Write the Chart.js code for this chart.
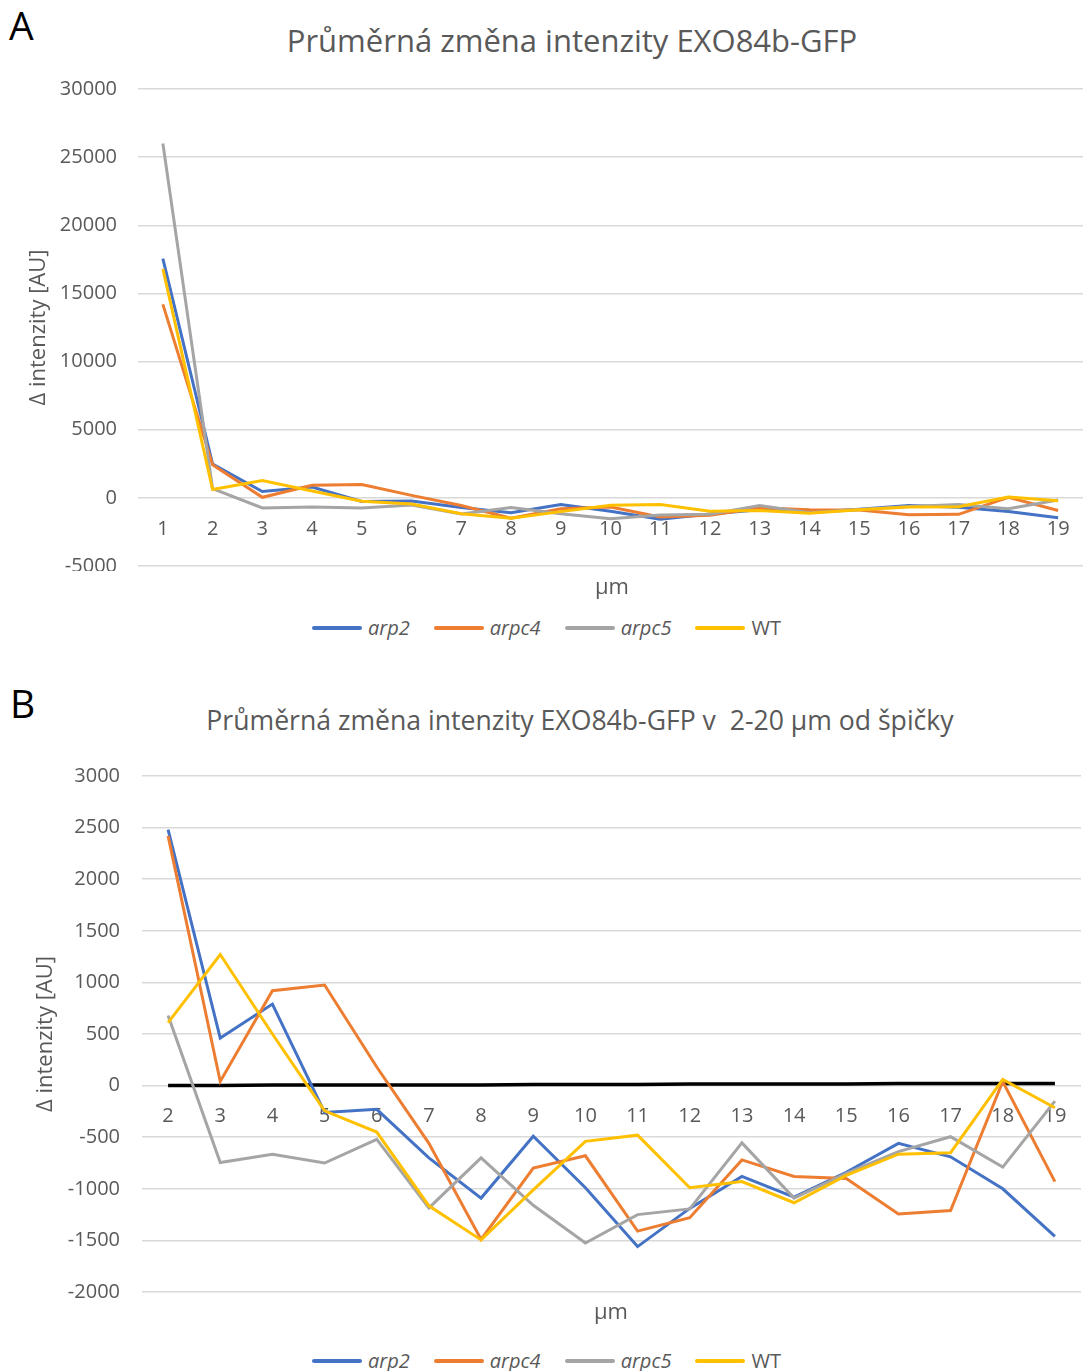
<!DOCTYPE html>
<html>
<head>
<meta charset="utf-8">
<title>EXO84b-GFP</title>
<script src="https://cdn.jsdelivr.net/npm/chart.js@4.4.1/dist/chart.umd.min.js"></script>
<style>
  html, body { margin: 0; padding: 0; background: #fff; }
  body { position: relative; width: 1083px; height: 1371px; overflow: hidden; font-family: "Open Sans", sans-serif; }
  .abs { position: absolute; }
  .panel { font-size: 39px; color: #000; line-height: 1; }
  .title { color: #595959; white-space: nowrap; transform: translateX(-50%); line-height: 1; }
  .xtitle { color: #595959; font-size: 22px; transform: translateX(-50%); line-height: 1; }
  .legend { display: flex; align-items: center; gap: 24px; color: #595959; font-size: 20px; line-height: 1; }
  .legend .item { display: flex; align-items: center; gap: 6px; }
  .legend .swatch { width: 50px; height: 4px; border-radius: 2px; }
  canvas { position: absolute; left: 0; }
</style>
</head>
<body>
<div class="abs panel" style="left:9px; top:5px;">A</div>
<div class="abs title" style="left:572px; top:25px; font-size:31px;">Průměrná změna intenzity EXO84b-GFP</div>
<canvas id="chartA" width="1083" height="491" style="top:80px;"></canvas>
<div class="abs xtitle" style="left:612px; top:574px;">μm</div>
<div class="abs legend" id="legendA" style="left:312px; top:618px;"></div>

<div class="abs panel" style="left:10px; top:683px;">B</div>
<div class="abs title" style="left:580px; top:707px; font-size:26.6px;">Průměrná změna intenzity EXO84b-GFP v&nbsp;&nbsp;2-20 μm od špičky</div>
<canvas id="chartB" width="1083" height="546" style="top:760px;"></canvas>
<div class="abs xtitle" style="left:611px; top:1299px;">μm</div>
<div class="abs legend" id="legendB" style="left:312px; top:1351px;"></div>

<script>
// Distance from the tip (µm)
const positions = ['1','2','3','4','5','6','7','8','9','10','11','12','13','14','15','16','17','18','19'];

// Mean change of EXO84b-GFP intensity [AU] per line
const arp2  = [17550, 2480,  460,  790, -260, -230, -700, -1090, -490, -990, -1560, -1190, -880, -1080, -840, -560, -690, -1000, -1460];
const arpc4 = [14200, 2420,   40,  920,  975,  180, -560, -1490, -800, -680, -1410, -1280, -720,  -880, -900, -1245, -1210,  40,  -930];
const arpc5 = [26000,  680, -745, -665, -750, -520, -1185, -700, -1160, -1525, -1250, -1195, -555, -1090, -850, -640, -495, -790, -150];
const wt    = [16800,  610, 1270,  500, -245, -450, -1165, -1495, -1010, -540, -480, -990, -930, -1135, -870, -665, -650,  60, -215];

// Reference line shown in the 2-20 µm detail (positions 2..19)
const referenceLine = [0, 0, 5, 5, 5, 5, 5, 10, 10, 10, 15, 15, 15, 15, 20, 20, 20, 20];

const seriesNames = ['arp2', 'arpc4', 'arpc5', 'WT'];
const seriesValues = [arp2, arpc4, arpc5, wt];

// Tick marks for the two value axes
const yTicksA = { min: -5000, max: 30000, step: 5000 };
const yTicksB = { min: -2000, max: 3000, step: 500 };

const colors = ['#4472C4', '#ED7D31', '#A5A5A5', '#FFC000'];
const italicNames = new Set(['arp2', 'arpc4', 'arpc5']);
const textColor = '#595959';
const gridColor = '#D9D9D9';
const fontFamily = '"Open Sans", sans-serif';

function lineDatasets(startIndex) {
  return seriesNames.map((name, i) => ({
    label: name,
    data: seriesValues[i].slice(startIndex),
    borderColor: colors[i],
    backgroundColor: colors[i],
    borderWidth: 3,
    pointRadius: 0,
    pointHoverRadius: 0,
    tension: 0,
    fill: false,
    order: 4 - i
  }));
}

function buildOptions(yTicks, axisWidth, tickPad, titlePad, pad) {
  return {
    responsive: false,
    animation: false,
    devicePixelRatio: 1,
    layout: { padding: pad },
    plugins: { legend: { display: false }, title: { display: false }, tooltip: { enabled: false } },
    scales: {
      x: {
        type: 'category',
        offset: true,
        position: { y: 0 },
        grid: { display: false, drawTicks: false },
        border: { display: false },
        ticks: { color: textColor, font: { family: fontFamily, size: 20 }, padding: 19, maxRotation: 0, autoSkip: false },
        afterFit(scale) { scale.height = 0; scale.paddingLeft = 0; scale.paddingRight = 0; }
      },
      y: {
        min: yTicks.min,
        max: yTicks.max,
        grid: { color: gridColor, lineWidth: 1.5, drawTicks: false },
        border: { display: false },
        ticks: {
          stepSize: yTicks.step,
          color: textColor,
          font: { family: fontFamily, size: 20 },
          padding: tickPad,
          callback: (v) => String(v)
        },
        title: { display: true, text: 'Δ intenzity [AU]', color: textColor, font: { family: fontFamily, size: 22 }, padding: { top: titlePad, bottom: 0 } },
        afterFit(scale) { scale.width = axisWidth; scale.paddingTop = 0; scale.paddingBottom = 0; }
      }
    }
  };
}

function buildLegend(id) {
  const box = document.getElementById(id);
  seriesNames.forEach((name, i) => {
    const item = document.createElement('div');
    item.className = 'item';
    const sw = document.createElement('span');
    sw.className = 'swatch';
    sw.style.background = colors[i];
    const tx = document.createElement('span');
    tx.textContent = name;
    if (italicNames.has(name)) tx.style.fontStyle = 'italic';
    item.appendChild(sw);
    item.appendChild(tx);
    box.appendChild(item);
  });
}

// Panel A: full profile 1-19 µm
new Chart(document.getElementById('chartA'), {
  type: 'line',
  data: { labels: positions, datasets: lineDatasets(0) },
  options: buildOptions(yTicksA, 138, 21, 26, { top: 9, bottom: 5, right: 0, left: 0 })
});

// Panel B: detail 2-20 µm with reference line
const datasetsB = lineDatasets(1);
datasetsB.push({
  label: 'reference',
  data: referenceLine,
  borderColor: '#000000',
  borderWidth: 3.5,
  pointRadius: 0,
  tension: 0,
  fill: false,
  order: 5
});
new Chart(document.getElementById('chartB'), {
  type: 'line',
  data: { labels: positions.slice(1), datasets: datasetsB },
  options: buildOptions(yTicksB, 142, 22, 33, { top: 16, bottom: 14, right: 2, left: 0 })
});

buildLegend('legendA');
buildLegend('legendB');
</script>
</body>
</html>
